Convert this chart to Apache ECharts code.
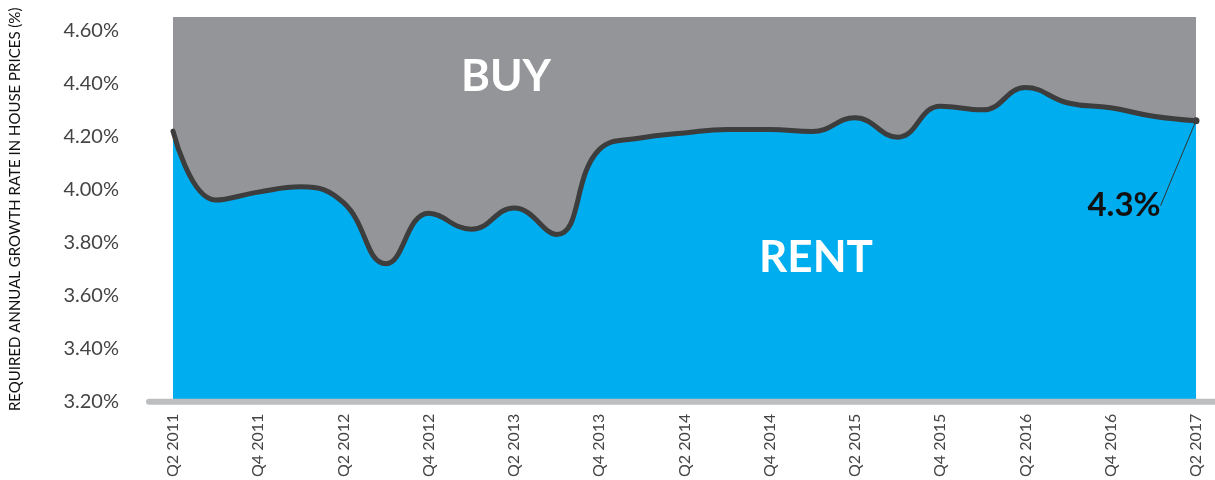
<!DOCTYPE html>
<html>
<head>
<meta charset="utf-8">
<script src="https://cdn.jsdelivr.net/npm/echarts@6/dist/echarts.min.js"></script>
<style>
  html, body { margin: 0; padding: 0; background: #fff; }
  #main { width: 1215px; height: 480px; }
</style>
</head>
<body>
<div id="main"></div>
<script>
var quarters = [
  "Q2 2011", "Q3 2011", "Q4 2011", "Q1 2012", "Q2 2012", "Q3 2012", "Q4 2012",
  "Q1 2013", "Q2 2013", "Q3 2013", "Q4 2013", "Q1 2014", "Q2 2014", "Q3 2014",
  "Q4 2014", "Q1 2015", "Q2 2015", "Q3 2015", "Q4 2015", "Q1 2016", "Q2 2016",
  "Q3 2016", "Q4 2016", "Q1 2017", "Q2 2017"
];
// required annual growth rate (%)
var growthRate = [
  4.22, 3.96, 3.99, 4.01, 3.95, 3.72, 3.91, 3.85, 3.93, 3.83, 4.15, 4.195,
  4.213, 4.226, 4.226, 4.218, 4.27, 4.197, 4.314, 4.30, 4.384, 4.326, 4.308,
  4.276, 4.259
];
var lastLabel = "4.3%";

var myChart = echarts.init(document.getElementById("main"));

var fontFam = "Lato, 'Open Sans', sans-serif";

var seriesData = growthRate.map(function (v, i) {
  if (i === growthRate.length - 1) {
    return {
      value: v,
      symbolSize: 7,
      itemStyle: { color: "#3d3d3d", borderWidth: 0 },
      label: {
        show: true,
        formatter: lastLabel,
        position: "bottom",
        color: "#111",
        fontSize: 33,
        fontWeight: "bold",
        fontFamily: fontFam,
        padding: [14, 0, 0, 0]
      },
      labelLine: { show: true, lineStyle: { color: "#333", width: 1 } }
    };
  }
  return v;
});

var option = {
  animation: false,
  grid: {
    left: 172,
    right: 19,
    top: 17,
    bottom: 78,
    show: true,
    backgroundColor: "#939598",
    borderWidth: 0
  },
  xAxis: {
    type: "category",
    data: quarters,
    boundaryGap: false,
    axisLine: { show: false },
    axisTick: { show: false },
    axisLabel: {
      interval: 1,
      rotate: 90,
      margin: 12,
      color: "#444",
      fontSize: 16,
      fontFamily: fontFam
    },
    splitLine: { show: false }
  },
  yAxis: {
    type: "value",
    min: 3.2,
    max: 4.65,
    interval: 0.2,
    name: "REQUIRED ANNUAL GROWTH RATE IN HOUSE PRICES (%)",
    nameLocation: "middle",
    nameRotate: 90,
    nameGap: 150,
    nameTextStyle: { color: "#111", fontSize: 15, fontFamily: fontFam },
    axisLine: { show: false },
    axisTick: { show: false },
    splitLine: { show: false },
    axisLabel: {
      showMaxLabel: false,
      margin: 54,
      color: "#444",
      fontSize: 20,
      fontFamily: fontFam,
      formatter: function (v) { return v.toFixed(2) + "%"; }
    }
  },
  series: [
    {
      type: "line",
      data: seriesData,
      smooth: 0.45,
      showSymbol: true,
      symbol: "circle",
      symbolSize: 0,
      lineStyle: { color: "#3d3d3d", width: 5, cap: "round" },
      areaStyle: { color: "#00adee", opacity: 1, origin: "start" },
      labelLayout: { dx: -72, dy: 46 },
      z: 3
    }
  ]
};
myChart.setOption(option);

// bottom axis bar and BUY / RENT tags
var axisY = myChart.convertToPixel({ yAxisIndex: 0 }, 3.2);
myChart.setOption({
  graphic: [
    {
      type: "line",
      shape: { x1: 149, y1: axisY, x2: 1215, y2: axisY },
      style: { stroke: "#bcbec0", lineWidth: 6, lineCap: "round" },
      z: 10
    },
    {
      type: "text",
      x: 506, y: 77,
      style: {
        text: "BUY", fill: "#fff", fontSize: 44, fontWeight: "bold",
        fontFamily: fontFam, textAlign: "center", textVerticalAlign: "middle"
      },
      z: 10
    },
    {
      type: "text",
      x: 816, y: 258,
      style: {
        text: "RENT", fill: "#fff", fontSize: 44, fontWeight: "bold",
        fontFamily: fontFam, textAlign: "center", textVerticalAlign: "middle"
      },
      z: 10
    }
  ]
});
</script>
</body>
</html>
